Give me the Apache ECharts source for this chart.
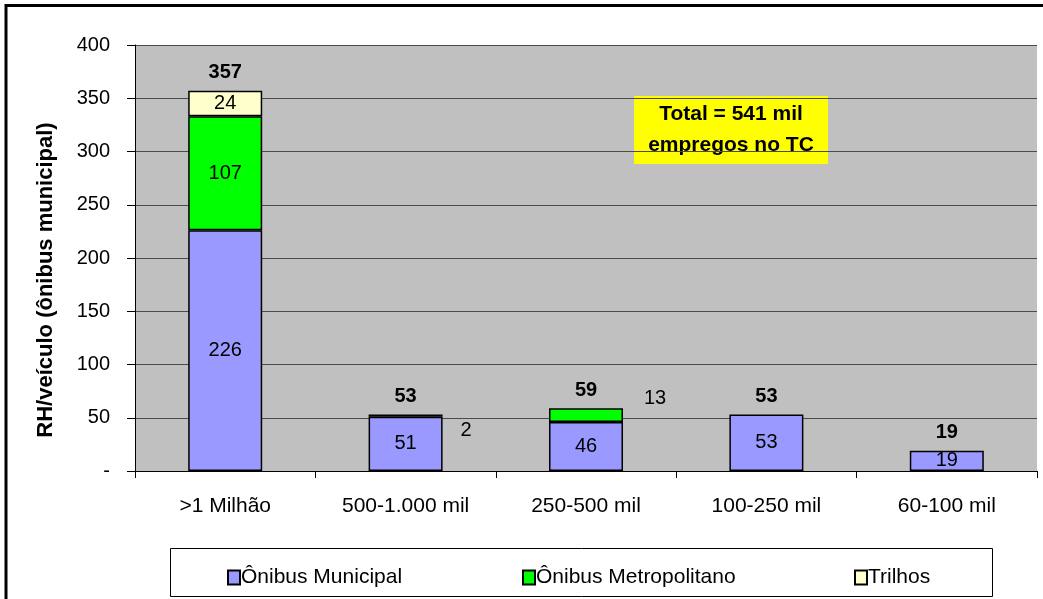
<!DOCTYPE html>
<html>
<head>
<meta charset="utf-8">
<script src="https://cdn.jsdelivr.net/npm/echarts@6/dist/echarts.min.js"></script>
<style>
  html, body { margin: 0; padding: 0; background: #ffffff; }
  #chart { width: 1043px; height: 599px; }
</style>
</head>
<body>
<div id="chart"></div>
<script>
// Porte do município (faixas de população)
const categories = ['>1 Milhão', '500-1.000 mil', '250-500 mil', '100-250 mil', '60-100 mil'];
// RH por veículo, por modo
const onibusMunicipal = [226, 51, 46, 53, 19];
const onibusMetropolitano = [107, 2, 13, 0, 0];
const trilhos = [24, 0, 0, 0, 0];
const totais = [357, 53, 59, 53, 19];
const yTicks = [0, 50, 100, 150, 200, 250, 300, 350, 400];

const FONT = 'Liberation Sans, Arial, sans-serif';
const chart = echarts.init(document.getElementById('chart'), null, { renderer: 'canvas' });

// small segments get their value written beside the bar
const sideLabels = {
  1: { position: 'right', distance: 0, offset: [18, 15] },
  2: { position: 'right', distance: 0, offset: [21, -17] }
};

function seriesData(values, overrides) {
  return values.map((v, i) => {
    if (!v) return null;
    const item = { value: v };
    if (overrides && overrides[i]) item.label = overrides[i];
    return item;
  });
}

const segLabel = {
  show: true,
  position: 'inside',
  color: '#000',
  fontFamily: FONT,
  fontSize: 20
};
const segBorder = { borderColor: '#000', borderWidth: 1.5 };

function legendFor(name, left) {
  return {
    data: [name],
    left: left,
    top: 562,
    icon: 'rect',
    itemWidth: 12,
    itemHeight: 14,
    textStyle: { fontFamily: FONT, fontSize: 21, color: '#000', padding: [0, 0, 0, -4] },
    selectedMode: false
  };
}

chart.setOption({
  animation: false,
  backgroundColor: '#ffffff',
  grid: {
    left: 135, right: 6, top: 45, bottom: 128,
    show: true, backgroundColor: '#c0c0c0', borderWidth: 0
  },
  xAxis: {
    type: 'category',
    data: categories,
    axisLine: { lineStyle: { color: '#000', width: 1 } },
    axisTick: { show: true, length: 7, lineStyle: { color: '#000' } },
    axisLabel: { margin: 25, fontFamily: FONT, fontSize: 21, color: '#000' }
  },
  yAxis: {
    type: 'value',
    min: yTicks[0],
    max: yTicks[yTicks.length - 1],
    interval: 50,
    axisLine: { show: true, lineStyle: { color: '#000', width: 1 } },
    axisTick: { show: true, length: 8, inside: false, lineStyle: { color: '#000' } },
    axisLabel: {
      margin: 25, fontFamily: FONT, fontSize: 20, color: '#000',
      formatter: v => (v === 0 ? '-' : String(v))
    },
    splitLine: { show: true, lineStyle: { color: '#4a4a4a', width: 1 } }
  },
  legend: [
    legendFor('Ônibus Municipal', 222),
    legendFor('Ônibus Metropolitano', 517),
    legendFor('Trilhos', 849)
  ],
  graphic: [
    // moldura externa
    { type: 'rect', shape: { x: 6, y: 5.5, width: 1200, height: 800 },
      style: { fill: 'none', stroke: '#000', lineWidth: 3 }, silent: true, z: 100 },
    // caixa da legenda
    { type: 'rect', shape: { x: 170.5, y: 548.5, width: 822, height: 48 },
      style: { fill: 'none', stroke: '#000', lineWidth: 1 }, silent: true },
    // título do eixo vertical
    { type: 'text', x: 46, y: 280, rotation: Math.PI / 2,
      style: { text: 'RH/veículo (ônibus municipal)', align: 'center', verticalAlign: 'middle',
        font: 'bold 22px ' + FONT, fill: '#000' } },
    // destaque do total
    { type: 'group', left: 634, top: 96, children: [
      { type: 'rect', shape: { x: 0, y: 0, width: 194, height: 68 }, style: { fill: '#ffff00' } },
      { type: 'text', x: 97, y: 18, style: { text: 'Total = 541 mil', align: 'center', verticalAlign: 'middle',
        font: 'bold 21px ' + FONT, fill: '#000' } },
      { type: 'text', x: 97, y: 49, style: { text: 'empregos no TC', align: 'center', verticalAlign: 'middle',
        font: 'bold 21px ' + FONT, fill: '#000' } }
    ] }
  ],
  series: [
    {
      name: 'Ônibus Municipal', type: 'bar', stack: 'rh', barWidth: 74,
      data: seriesData(onibusMunicipal),
      itemStyle: Object.assign({ color: '#9999ff' }, segBorder),
      label: segLabel
    },
    {
      name: 'Ônibus Metropolitano', type: 'bar', stack: 'rh', barWidth: 74,
      data: seriesData(onibusMetropolitano, sideLabels),
      itemStyle: Object.assign({ color: '#00ff00' }, segBorder),
      label: segLabel
    },
    {
      name: 'Trilhos', type: 'bar', stack: 'rh', barWidth: 74,
      data: seriesData(trilhos),
      itemStyle: Object.assign({ color: '#ffffcc' }, segBorder),
      label: segLabel
    },
    {
      name: 'Total', type: 'bar', barWidth: 74, barGap: '-100%', silent: true,
      data: totais,
      itemStyle: { color: 'rgba(0,0,0,0)' },
      label: {
        show: true, position: 'top', distance: 8, color: '#000',
        fontFamily: FONT, fontSize: 20, fontWeight: 'bold'
      }
    }
  ]
});
</script>
</body>
</html>
